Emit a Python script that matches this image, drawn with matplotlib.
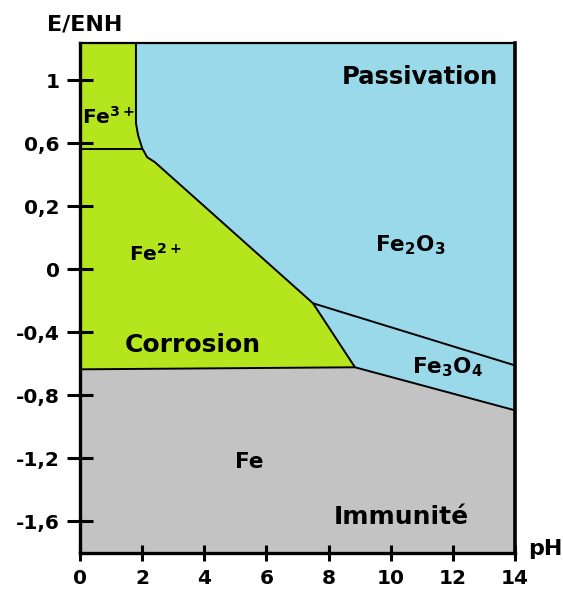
import matplotlib.pyplot as plt
from matplotlib.patches import Polygon

plt.rcParams['font.family'] = ['DejaVu Sans']
plt.rcParams['font.weight'] = 'bold'
plt.rcParams['mathtext.fontset'] = 'custom'
plt.rcParams['mathtext.rm'] = 'DejaVu Sans:bold'
plt.rcParams['mathtext.it'] = 'DejaVu Sans:bold'
plt.rcParams['mathtext.bf'] = 'DejaVu Sans:bold'

# axis ranges (pH, potential)
ph_min, ph_max = 0, 14
e_min, e_max = -2.0, 1.235

# ticks (labels are as printed on the original figure)
x_ticks = [0, 2, 4, 6, 8, 10, 12, 14]
y_ticks = [1, 0.6, 0.2, -0.2, -0.6, -1.0, -1.4, -1.8]
y_labels = ['1', '0,6', '0,2', '0', '-0,4', '-0,8', '-1,2', '-1,6']

# boundary lines (pH, E)
fe2_fe2o3_ph = [1.80, 1.80, 1.87, 2.00, 2.16, 2.41, 7.50]
fe2_fe2o3_e = [1.235, 0.727, 0.650, 0.568, 0.511, 0.479, -0.416]
fe3_fe2_ph = [0, 2.0]
fe3_fe2_e = [0.562, 0.562]
fe2_fe3o4_ph = [7.50, 8.85]
fe2_fe3o4_e = [-0.416, -0.822]
fe2o3_fe3o4_ph = [7.50, 14]
fe2o3_fe3o4_e = [-0.416, -0.81]
fe_fe2_ph = [0, 8.85]
fe_fe2_e = [-0.835, -0.822]
fe_fe3o4_ph = [8.85, 14]
fe_fe3o4_e = [-0.822, -1.095]

# region labels
labels = ['Passivation', r'Fe$_2$O$_3$', r'Fe$_3$O$_4$', r'Fe$^{3+}$', r'Fe$^{2+}$',
          'Corrosion', 'Fe', 'Immunité']
label_ph = [10.94, 10.62, 11.81, 0.90, 2.42, 3.64, 5.44, 10.33]
label_e = [1.02, -0.05, -0.82, 0.765, -0.105, -0.68, -1.42, -1.77]
label_size = [17.5, 15.5, 15.5, 14.5, 14.5, 18, 15.5, 18]

green = '#b5e61d'
blue = '#99d9ea'
grey = '#c3c3c3'

fig = plt.figure(figsize=(5.63, 5.95), dpi=100)
ax = fig.add_axes([80 / 563, 1 - 553 / 595, 435 / 563, 510 / 595])
ax.set_xlim(ph_min, ph_max)
ax.set_ylim(e_min, e_max)

# filled domains
grey_pts = [(ph_min, e_min)] + list(zip(fe_fe2_ph, fe_fe2_e)) + \
    list(zip(fe_fe3o4_ph[1:], fe_fe3o4_e[1:])) + [(ph_max, e_min)]
green_pts = [(ph_min, fe_fe2_e[0]), (ph_min, e_max)] + \
    list(zip(fe2_fe2o3_ph, fe2_fe2o3_e)) + list(zip(fe2_fe3o4_ph[1:], fe2_fe3o4_e[1:]))
blue_pts = list(zip(fe2_fe2o3_ph, fe2_fe2o3_e)) + list(zip(fe2_fe3o4_ph[1:], fe2_fe3o4_e[1:])) + \
    list(zip(fe_fe3o4_ph[1:], fe_fe3o4_e[1:])) + [(ph_max, e_max)]
ax.add_patch(Polygon(grey_pts, closed=True, facecolor=grey, edgecolor='none'))
ax.add_patch(Polygon(green_pts, closed=True, facecolor=green, edgecolor='none'))
ax.add_patch(Polygon(blue_pts, closed=True, facecolor=blue, edgecolor='none'))

# boundaries
for xs, ys in [(fe2_fe2o3_ph, fe2_fe2o3_e), (fe3_fe2_ph, fe3_fe2_e),
               (fe2_fe3o4_ph, fe2_fe3o4_e), (fe2o3_fe3o4_ph, fe2o3_fe3o4_e),
               (fe_fe2_ph, fe_fe2_e), (fe_fe3o4_ph, fe_fe3o4_e)]:
    ax.plot(xs, ys, color='black', lw=1.4, solid_capstyle='butt')

for txt, x, y, s in zip(labels, label_ph, label_e, label_size):
    ax.text(x, y, txt, fontsize=s, fontweight='bold', ha='center', va='center')

# axes styling
ax.spines['left'].set_linewidth(2.4)
ax.spines['bottom'].set_linewidth(2.4)
ax.spines['right'].set_linewidth(2.6)
ax.spines['top'].set_linewidth(1.6)
ax.set_xticks(x_ticks)
ax.set_xticklabels([str(v) for v in x_ticks])
ax.set_yticks(y_ticks)
ax.set_yticklabels(y_labels)
ax.tick_params(axis='y', direction='inout', length=19, width=2.2, labelsize=14.5, pad=5)
ax.tick_params(axis='x', direction='inout', length=11, width=2.2, labelsize=14.5, pad=6)
for lab in ax.get_xticklabels() + ax.get_yticklabels():
    lab.set_fontweight('bold')

fig.text(85 / 563, 1 - 24 / 595, 'E/ENH', fontsize=16, fontweight='bold', ha='center', va='center')
fig.text(545 / 563, 1 - 549 / 595, 'pH', fontsize=16, fontweight='bold', ha='center', va='center')

fig.savefig('out.png', dpi=100)
